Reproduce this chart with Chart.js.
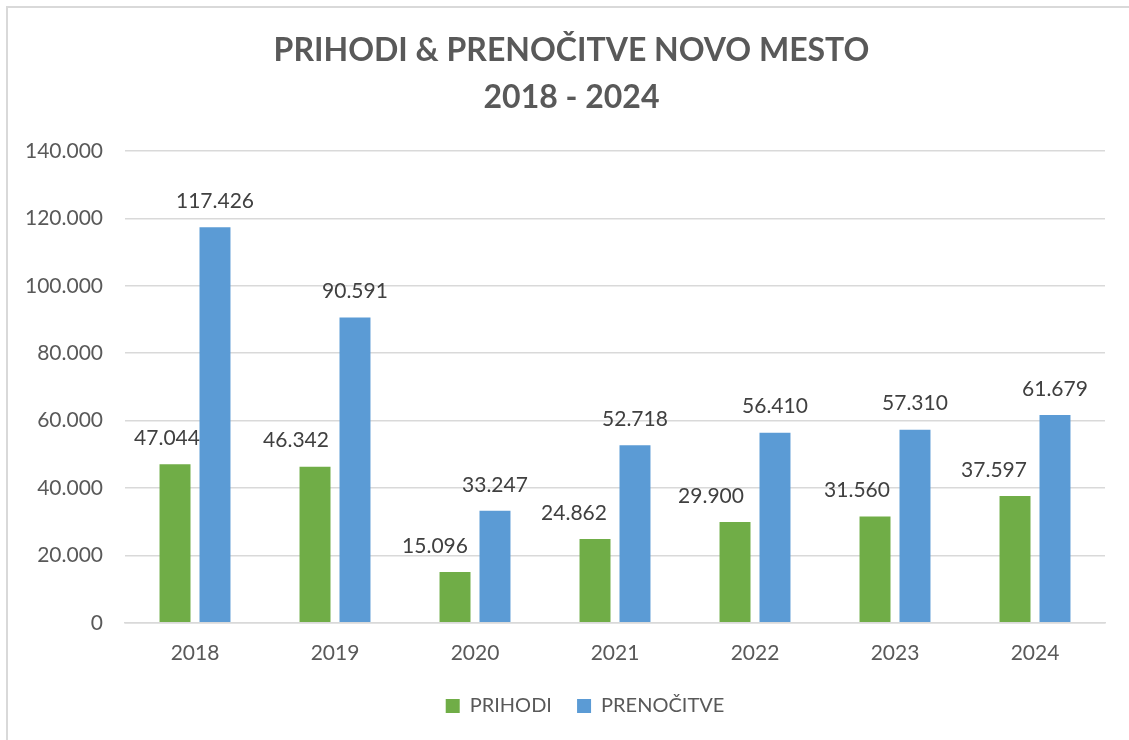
<!DOCTYPE html>
<html>
<head>
<meta charset="utf-8">
<script src="https://cdn.jsdelivr.net/npm/chart.js@4/dist/chart.umd.min.js"></script>
<style>
  html, body { margin: 0; padding: 0; background: #fff; }
  #wrap { position: relative; width: 1129px; height: 740px; overflow: hidden; }
  #frame { position: absolute; left: 6px; top: 6px; width: 1200px; height: 800px; border: 2px solid #d9d9d9; box-sizing: border-box; }
  canvas { position: absolute; left: 0; top: 0; }
</style>
</head>
<body>
<div id="wrap">
  <div id="frame"></div>
  <canvas id="chart" width="1129" height="740"></canvas>
</div>
<script>
// Data
const years = ["2018", "2019", "2020", "2021", "2022", "2023", "2024"];
const prihodi = [47044, 46342, 15096, 24862, 29900, 31560, 37597];
const prenocitve = [117426, 90591, 33247, 52718, 56410, 57310, 61679];
const seriesNames = ["PRIHODI", "PRENOČITVE"];
const titleLines = ["PRIHODI & PRENOČITVE NOVO MESTO", "2018 - 2024"];

// Label nudges (px) as placed in the original, green labels sit left of their bars
const labelShiftX = [
    [-8, -19, -20, -21, -24, -18, -21],
    [0, 0, 0, 0, 0, 0, 0]
];

const FONT = "Lato, 'Open Sans', sans-serif";

function fmt(n) {
    // Slovenian style: dot as thousands separator
    return String(Math.round(n)).replace(/\B(?=(\d{3})+(?!\d))/g, ".");
}

// Draws the value above each bar
const valueLabels = {
    id: "valueLabels",
    afterDatasetsDraw(chart) {
        const ctx = chart.ctx;
        ctx.save();
        ctx.font = "21px " + FONT;
        ctx.fillStyle = "#404040";
        ctx.textAlign = "center";
        ctx.textBaseline = "middle";
        chart.data.datasets.forEach((ds, di) => {
            chart.getDatasetMeta(di).data.forEach((bar, i) => {
                ctx.fillText(fmt(ds.data[i]), bar.x + labelShiftX[di][i], bar.y - 26);
            });
        });
        ctx.restore();
    }
};

// Title and legend in the original are centred on the whole frame, not the plot
const centreNudge = {
    id: "centreNudge",
    afterLayout(chart) {
        if (chart.legend) chart.legend.left += 65;
        if (chart.titleBlock) chart.titleBlock.left += 38;
    }
};

new Chart(document.getElementById("chart"), {
    type: "bar",
    data: {
        labels: years,
        datasets: [
            {
                label: seriesNames[0],
                data: prihodi,
                backgroundColor: "#70AD47",
                barPercentage: 0.775,
                categoryPercentage: 0.571
            },
            {
                label: seriesNames[1],
                data: prenocitve,
                backgroundColor: "#5B9BD5",
                barPercentage: 0.775,
                categoryPercentage: 0.571
            }
        ]
    },
    options: {
        responsive: false,
        animation: false,
        layout: { padding: { left: 0, right: 24, top: 27, bottom: 14 } },
        scales: {
            x: {
                grid: { display: false },
                border: { display: true, color: "#d9d9d9", width: 1.5 },
                ticks: { color: "#595959", font: { family: FONT, size: 21 }, padding: 10 }
            },
            y: {
                min: 0,
                max: 140000,
                ticks: {
                    stepSize: 20000,
                    color: "#595959",
                    font: { family: FONT, size: 21 },
                    padding: 22,
                    callback: v => fmt(v)
                },
                grid: { color: "#d9d9d9", lineWidth: 1.5, drawTicks: false },
                border: { display: false },
                afterFit(scale) { scale.width = 125; }
            }
        },
        plugins: {
            title: {
                display: true,
                text: titleLines,
                color: "#595959",
                font: { family: FONT, size: 32, weight: "bold", lineHeight: 1.47 },
                padding: { top: 0, bottom: 30 }
            },
            legend: {
                position: "bottom",
                labels: {
                    color: "#595959",
                    font: { family: FONT, size: 20 },
                    boxWidth: 14,
                    boxHeight: 14,
                    padding: 20,
                    generateLabels(chart) {
                        const items = Chart.defaults.plugins.legend.labels.generateLabels(chart);
                        items[0].text = items[0].text + "\u00a0";
                        return items;
                    }
                }
            },
            tooltip: { enabled: false }
        }
    },
    plugins: [valueLabels, centreNudge]
});
</script>
</body>
</html>
